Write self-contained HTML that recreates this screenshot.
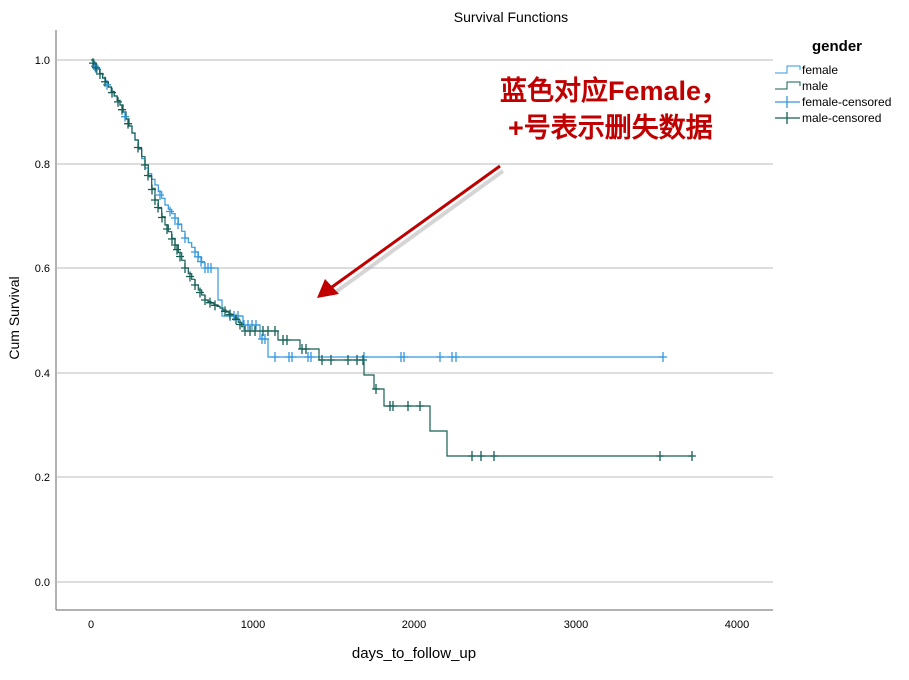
<!DOCTYPE html>
<html><head><meta charset="utf-8"><style>
body{margin:0;background:#fff;width:909px;height:675px;overflow:hidden}
text{font-family:"Liberation Sans",sans-serif}
</style></head><body>
<svg id="s" width="909" height="675" xmlns="http://www.w3.org/2000/svg">
<text x="511" y="22" font-size="14" text-anchor="middle">Survival Functions</text>
<line x1="56" y1="30" x2="56" y2="610" stroke="#666"/>
<line x1="56" y1="610" x2="773" y2="610" stroke="#666"/>
<g stroke="#bbb" stroke-width="1">
<line x1="56" y1="60" x2="773" y2="60"/><line x1="56" y1="164" x2="773" y2="164"/>
<line x1="56" y1="268" x2="773" y2="268"/><line x1="56" y1="373" x2="773" y2="373"/>
<line x1="56" y1="477" x2="773" y2="477"/><line x1="56" y1="582" x2="773" y2="582"/>
</g>
<g font-size="11" text-anchor="end">
<text x="50" y="64">1.0</text><text x="50" y="168">0.8</text><text x="50" y="272">0.6</text>
<text x="50" y="377">0.4</text><text x="50" y="481">0.2</text><text x="50" y="586">0.0</text>
</g>
<g font-size="11" text-anchor="middle">
<text x="91" y="628">0</text><text x="253" y="628">1000</text><text x="414" y="628">2000</text>
<text x="576" y="628">3000</text><text x="737" y="628">4000</text>
</g>
<text x="414" y="658" font-size="15" text-anchor="middle">days_to_follow_up</text>
<text transform="translate(19,318) rotate(-90)" font-size="14" text-anchor="middle">Cum Survival</text>
<g id="curves"></g>
<text x="837" y="51" font-size="15" font-weight="bold" text-anchor="middle">gender</text>
<g font-size="12">
<path d="M775 73 H787 V66 H800 V70" fill="none" stroke="#3399dd"/><text x="802" y="74">female</text>
<path d="M775 89 H787 V82 H800 V86" fill="none" stroke="#145f55"/><text x="802" y="90">male</text>
<path d="M775 102 H800 M787 96 V108" stroke="#3399dd" stroke-width="1.3"/><text x="802" y="106">female-censored</text>
<path d="M775 118 H800 M787 112 V124" stroke="#145f55" stroke-width="1.3"/><text x="802" y="122">male-censored</text>
</g>
<text x="500" y="100" font-size="27" font-weight="bold" fill="#c00000" font-family="Liberation Sans,'Noto Sans CJK SC',sans-serif">蓝色对应Female，</text>
<text x="508" y="137" font-size="27" font-weight="bold" fill="#c00000" font-family="Liberation Sans,'Noto Sans CJK SC',sans-serif">+号表示删失数据</text>
<line x1="500" y1="167" x2="330" y2="290" stroke="#999" stroke-width="4" opacity="0.4" transform="translate(3,4)"/>
<line x1="500" y1="166" x2="332" y2="287" stroke="#c00000" stroke-width="3"/>
<polygon points="317,298 325,279 339,294" fill="#c00000"/>
</svg>
<script>
function stairs(pts,step){var d="M"+pts[0][0]+" "+pts[0][1];var cx=pts[0][0],cy=pts[0][1];
for(var i=1;i<pts.length;i++){var p=pts[i];if(p[2]){d+=" H"+p[0]+" V"+p[1];cx=p[0];cy=p[1];continue;}
var n=Math.max(1,Math.round((p[0]-cx)/step));var x0=cx,y0=cy;
for(var k=1;k<=n;k++){var x=x0+(p[0]-x0)*k/n,y=y0+(p[1]-y0)*k/n;d+=" H"+x.toFixed(1)+" V"+y.toFixed(1);}cx=p[0];cy=p[1];}
return d;}
var male=[[91,60],[120,105],[135,140],[145,165],[155,200],[165,225],[175,245],[185,268],[195,285],[205,300],[220,308],[235,318],[245,331],[278,340,1],[300,349,1],[319,360,1],[364,375,1],[374,389,1],[384,406,1],[430,431,1],[447,456,1],[692,456,1]];
var fem=[[91,60],[120,105],[135,140],[145,168],[155,185],[165,205],[175,218],[185,238],[195,252],[205,268],[215,268,1],[218,300,1],[222,316,1],[243,325,1],[260,339,1],[268,357,1],[664,357,1]];
var g=document.getElementById("curves");
g.innerHTML='<path d="'+stairs(fem,3)+'" fill="none" stroke="#3399dd" stroke-width="1.2"/>'+
'<path d="'+stairs(male,3)+'" fill="none" stroke="#145f55" stroke-width="1.2"/>';
function yAt(pts,x){var y=pts[0][1];for(var i=1;i<pts.length;i++){if(pts[i][0]<=x)y=pts[i][1];else{if(!pts[i][2]){var a=pts[i-1],b=pts[i];return a[1]+(b[1]-a[1])*(x-a[0])/(b[0]-a[0]);}return y;}}return y;}
function marks(pts,xs,c){var s="";xs.forEach(function(x){var y=yAt(pts,x);s+='<path d="M'+(x-4)+' '+y+' H'+(x+4)+' M'+x+' '+(y-5)+' V'+(y+5)+'" stroke="'+c+'" stroke-width="1.3"/>';});return s;}
var fx=[95,97,107,125,160,170,175,178,185,195,198,201,205,208,211,230,234,238,244,248,252,256,262,265,275,289,292,308,311,364,401,404,440,452,456,663];
var mx=[93,96,100,105,112,118,122,128,138,145,148,152,155,158,162,167,172,175,177,180,185,190,195,200,205,210,215,225,230,236,240,245,250,255,263,268,275,283,287,302,306,322,331,348,357,363,376,390,393,408,420,472,481,494,660,692];
g.innerHTML+=marks(fem,fx,"#3399dd")+marks(male,mx,"#145f55");
</script>
</body></html>
